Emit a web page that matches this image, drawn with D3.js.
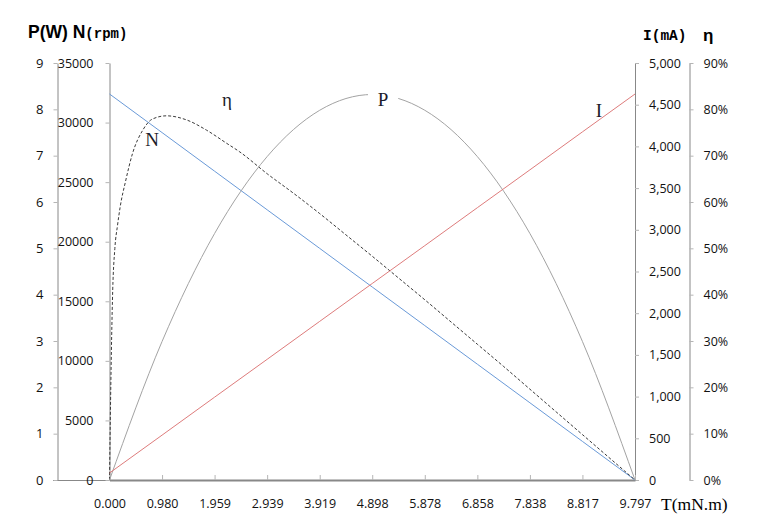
<!DOCTYPE html>
<html><head><meta charset="utf-8">
<script src="https://cdn.jsdelivr.net/npm/d3@7"></script>
<style>
body{margin:0;background:#fff;}
svg{display:block;}
.tick text{font-family:"Open Sans",sans-serif;font-size:12.5px;fill:#111;}
</style></head>
<body><svg id="c" width="772" height="522"></svg>
<script>
// ---- data ----
const torque = [0.000, 0.980, 1.959, 2.939, 3.919, 4.898, 5.878, 6.858, 7.838, 8.817, 9.797]; // mN.m
const speed  = [32400, 29160, 25920, 22680, 19440, 16200, 12960, 9720, 6480, 3240, 0];        // rpm
const current= [84, 538, 993, 1447, 1902, 2356, 2810, 3265, 3719, 4174, 4628];                // mA
const power  = [0, 2.99, 5.32, 6.98, 7.98, 8.32, 7.98, 6.98, 5.32, 2.99, 0];                   // W
const effT   = [0, 0.02, 0.06, 0.1, 0.15, 0.2, 0.3, 0.43, 0.62, 0.8, 1.06, 1.44, 1.81, 2.18, 2.43, 2.939, 3.429, 3.919, 4.409, 4.898, 5.388, 5.878, 6.368, 6.858, 7.348, 7.838, 8.327, 8.817, 9.307, 9.797];
const effV   = [0, 17, 41, 50, 55, 59, 64.5, 70.5, 75.5, 77.9, 78.6, 77.7, 75.5, 72.7, 70.8, 66.1, 61.9, 57.5, 52.9, 48.3, 43.6, 38.9, 34.1, 29.3, 24.5, 19.6, 14.7, 9.8, 4.9, 0]; // %
const pTicks = [0,1,2,3,4,5,6,7,8,9];
const nTicks = [0,5000,10000,15000,20000,25000,30000,35000];
const iTicks = [0,500,1000,1500,2000,2500,3000,3500,4000,4500,5000];
const eTicks = [0,10,20,30,40,50,60,70,80,90];

const svg = d3.select("#c");
const yTop = 63, yBot = 480, xl = 109.5, xr = 635;
const x  = d3.scaleLinear().domain([0, 9.797]).range([xl, xr]);
const yP = d3.scaleLinear().domain([0, 9]).range([yBot, yTop]);
const yN = d3.scaleLinear().domain([0, 35000]).range([yBot, yTop]);
const yI = d3.scaleLinear().domain([0, 5000]).range([yBot, yTop]);
const yE = d3.scaleLinear().domain([0, 90]).range([yBot, yTop]);

const axisCol = "#888", tickCol = "#b5b5b5";
function style(g){
  g.select(".domain").attr("stroke", axisCol).attr("stroke-width", 1);
  g.selectAll(".tick line").attr("stroke", tickCol);
}
// thin bottom connector from P axis to plot
svg.append("line").attr("x1",53).attr("x2",xl).attr("y1",yBot+0.5).attr("y2",yBot+0.5).attr("stroke",axisCol);

svg.append("g").attr("transform","translate(57.5,0)")
  .call(d3.axisLeft(yP).tickValues(pTicks).tickSize(4).tickSizeOuter(0).tickPadding(10).tickFormat(d3.format("d")))
  .call(style).call(g=>g.selectAll(".tick text").style("font-size","13px"));
svg.append("g").attr("transform",`translate(${xl},0)`)
  .call(d3.axisLeft(yN).tickValues(nTicks).tickSize(4).tickSizeOuter(0).tickPadding(12).tickFormat(d3.format("d")))
  .call(style);
svg.append("g").attr("transform",`translate(${xr},0)`)
  .call(d3.axisRight(yI).tickValues(iTicks).tickSize(4).tickSizeOuter(0).tickPadding(10).tickFormat(d3.format(",")))
  .call(style);
svg.append("g").attr("transform","translate(689.5,0)")
  .call(d3.axisRight(yE).tickValues(eTicks).tickSize(4).tickSizeOuter(0).tickPadding(10).tickFormat(d=>d+"%"))
  .call(style);
const gx = svg.append("g").attr("transform",`translate(0,${yBot})`)
  .call(d3.axisBottom(x).tickValues(torque).tickSizeInner(-5).tickSizeOuter(0).tickPadding(19).tickFormat(d3.format(".3f")));
gx.select(".domain").attr("stroke", axisCol).attr("stroke-width", 2.2);
gx.selectAll(".tick line").attr("stroke", tickCol);

// ---- series ----
const idx = d3.range(torque.length);
const lineOf = (ys, yScale, xs) => d3.line().curve(d3.curveMonotoneX)
  .x(i => x(xs[i])).y(i => yScale(ys[i]));
svg.append("path").attr("d", lineOf(speed, yN, torque)(idx))
  .attr("fill","none").attr("stroke","#6a9ad8").attr("stroke-width",1);
svg.append("path").attr("d", lineOf(effV, yE, effT)(d3.range(effT.length)))
  .attr("fill","none").attr("stroke","#3a3a3a").attr("stroke-width",1).attr("stroke-dasharray","3,2");
svg.append("path").attr("d", lineOf(power, yP, torque)(idx))
  .attr("fill","none").attr("stroke","#a3a3a3").attr("stroke-width",1);
svg.append("path").attr("d", lineOf(current, yI, torque)(idx))
  .attr("fill","none").attr("stroke","#de7c7c").attr("stroke-width",1);

// ---- in-plot labels ----
const serif = "'Liberation Serif','Times New Roman',serif";
svg.append("rect").attr("x",368).attr("y",84).attr("width",30).attr("height",24).attr("fill","#fff");
[["N",152,146],["η",227,106],["P",383,106],["I",599,117]].forEach(([t,px,py])=>{
  svg.append("text").attr("x",px).attr("y",py).attr("text-anchor","middle")
    .style("font-family",serif).style("font-size","19px").style("fill","#1c1c2a").text(t);
});

// ---- axis titles ----
const title = svg.append("text").attr("x",28).attr("y",38).style("fill","#000");
title.append("tspan").style("font-family","'Liberation Sans',Arial,sans-serif").style("font-weight","bold").style("font-size","17.5px").text("P(W) N");
title.append("tspan").style("font-family","'Liberation Mono',monospace").style("font-weight","bold").style("font-size","14px").text("(rpm)");
svg.append("text").attr("x",643).attr("y",40).style("font-family","'Liberation Mono',monospace").style("font-weight","bold").style("font-size","14.5px").text("I(mA)");
svg.append("text").attr("x",703).attr("y",41).style("font-family","'Liberation Sans',Arial,sans-serif").style("font-weight","bold").style("font-size","17px").text("η");
svg.append("text").attr("x",661).attr("y",510).style("font-family",serif).style("font-size","17.5px").text("T(mN.m)");
</script></body></html>
